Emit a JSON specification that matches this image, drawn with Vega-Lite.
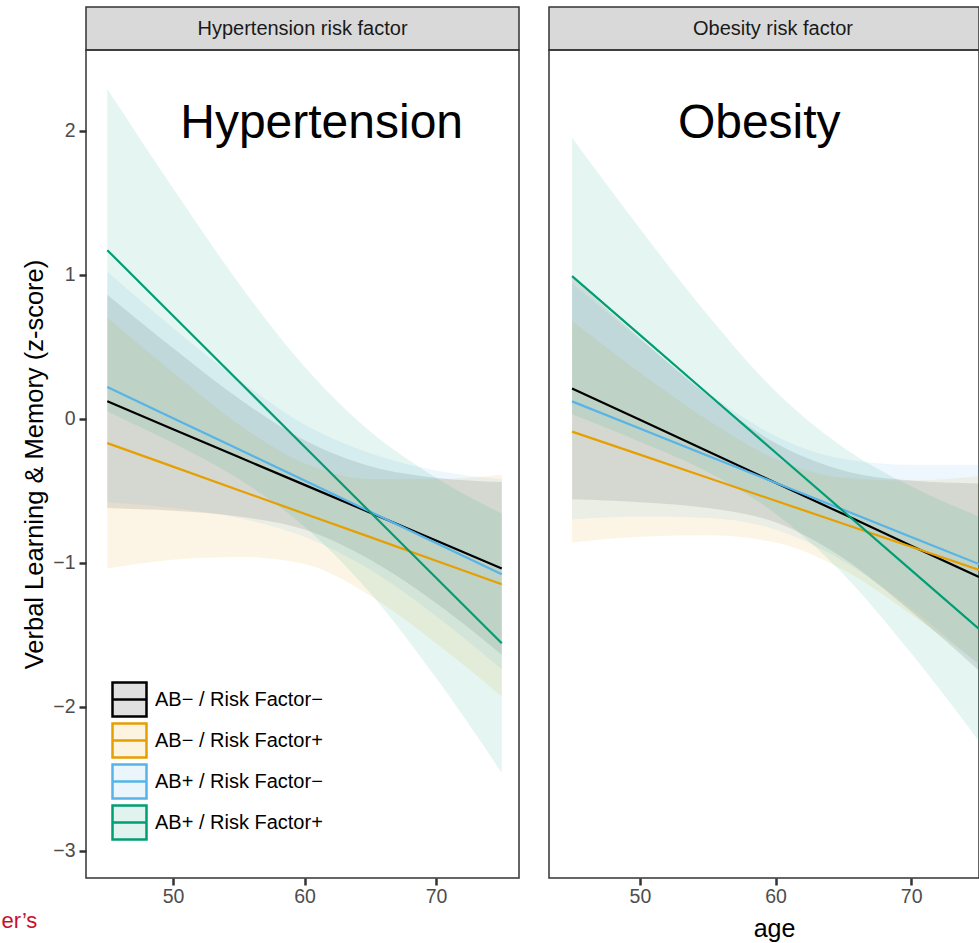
{
  "$schema": "https://vega.github.io/schema/vega-lite/v6.json",
  "padding": {"left": 0, "top": 6, "right": 0, "bottom": 0},
  "autosize": {"type": "pad"},
  "background": "white",
  "config": {
    "font": "Liberation Sans",
    "view": {"stroke": "#333333", "strokeWidth": 1.5},
    "axis": {"grid": false, "domain": false, "tickColor": "#333333", "tickWidth": 2.5, "tickSize": 7, "labelFont": "Liberation Sans", "labelFontSize": 19.5, "labelColor": "#4d4d4d", "titleFont": "Liberation Sans", "titleFontWeight": "normal", "titleColor": "#000000"}
  },
  "datasets": {
    "fits": [
      {"panel": "Hypertension", "group": "AB− / Risk Factor−", "age": 45, "fit": 0.12, "lo": -0.62, "hi": 0.86},
      {"panel": "Hypertension", "group": "AB− / Risk Factor−", "age": 50, "fit": -0.073, "lo": -0.64, "hi": 0.49},
      {"panel": "Hypertension", "group": "AB− / Risk Factor−", "age": 55, "fit": -0.267, "lo": -0.68, "hi": 0.14},
      {"panel": "Hypertension", "group": "AB− / Risk Factor−", "age": 60, "fit": -0.46, "lo": -0.77, "hi": -0.15},
      {"panel": "Hypertension", "group": "AB− / Risk Factor−", "age": 65, "fit": -0.653, "lo": -0.98, "hi": -0.33},
      {"panel": "Hypertension", "group": "AB− / Risk Factor−", "age": 70, "fit": -0.847, "lo": -1.28, "hi": -0.41},
      {"panel": "Hypertension", "group": "AB− / Risk Factor−", "age": 75, "fit": -1.04, "lo": -1.64, "hi": -0.44},
      {"panel": "Hypertension", "group": "AB− / Risk Factor+", "age": 45, "fit": -0.17, "lo": -1.04, "hi": 0.70},
      {"panel": "Hypertension", "group": "AB− / Risk Factor+", "age": 50, "fit": -0.333, "lo": -0.98, "hi": 0.32},
      {"panel": "Hypertension", "group": "AB− / Risk Factor+", "age": 55, "fit": -0.497, "lo": -0.96, "hi": -0.04},
      {"panel": "Hypertension", "group": "AB− / Risk Factor+", "age": 60, "fit": -0.66, "lo": -1.01, "hi": -0.31},
      {"panel": "Hypertension", "group": "AB− / Risk Factor+", "age": 65, "fit": -0.823, "lo": -1.23, "hi": -0.42},
      {"panel": "Hypertension", "group": "AB− / Risk Factor+", "age": 70, "fit": -0.987, "lo": -1.56, "hi": -0.42},
      {"panel": "Hypertension", "group": "AB− / Risk Factor+", "age": 75, "fit": -1.15, "lo": -1.93, "hi": -0.39},
      {"panel": "Hypertension", "group": "AB+ / Risk Factor−", "age": 45, "fit": 0.22, "lo": -0.58, "hi": 1.02},
      {"panel": "Hypertension", "group": "AB+ / Risk Factor−", "age": 50, "fit": 0.003, "lo": -0.62, "hi": 0.63},
      {"panel": "Hypertension", "group": "AB+ / Risk Factor−", "age": 55, "fit": -0.213, "lo": -0.69, "hi": 0.27},
      {"panel": "Hypertension", "group": "AB+ / Risk Factor−", "age": 60, "fit": -0.43, "lo": -0.82, "hi": -0.04},
      {"panel": "Hypertension", "group": "AB+ / Risk Factor−", "age": 65, "fit": -0.647, "lo": -1.05, "hi": -0.24},
      {"panel": "Hypertension", "group": "AB+ / Risk Factor−", "age": 70, "fit": -0.863, "lo": -1.37, "hi": -0.36},
      {"panel": "Hypertension", "group": "AB+ / Risk Factor−", "age": 75, "fit": -1.08, "lo": -1.74, "hi": -0.42},
      {"panel": "Hypertension", "group": "AB+ / Risk Factor+", "age": 45, "fit": 1.17, "lo": 0.05, "hi": 2.29},
      {"panel": "Hypertension", "group": "AB+ / Risk Factor+", "age": 50, "fit": 0.715, "lo": -0.17, "hi": 1.60},
      {"panel": "Hypertension", "group": "AB+ / Risk Factor+", "age": 55, "fit": 0.26, "lo": -0.42, "hi": 0.94},
      {"panel": "Hypertension", "group": "AB+ / Risk Factor+", "age": 60, "fit": -0.195, "lo": -0.75, "hi": 0.36},
      {"panel": "Hypertension", "group": "AB+ / Risk Factor+", "age": 65, "fit": -0.65, "lo": -1.21, "hi": -0.09},
      {"panel": "Hypertension", "group": "AB+ / Risk Factor+", "age": 70, "fit": -1.105, "lo": -1.80, "hi": -0.41},
      {"panel": "Hypertension", "group": "AB+ / Risk Factor+", "age": 75, "fit": -1.56, "lo": -2.46, "hi": -0.66},
      {"panel": "Obesity", "group": "AB− / Risk Factor−", "age": 45, "fit": 0.21, "lo": -0.56, "hi": 0.98},
      {"panel": "Obesity", "group": "AB− / Risk Factor−", "age": 50, "fit": -0.008, "lo": -0.58, "hi": 0.56},
      {"panel": "Obesity", "group": "AB− / Risk Factor−", "age": 55, "fit": -0.227, "lo": -0.62, "hi": 0.16},
      {"panel": "Obesity", "group": "AB− / Risk Factor−", "age": 60, "fit": -0.445, "lo": -0.72, "hi": -0.17},
      {"panel": "Obesity", "group": "AB− / Risk Factor−", "age": 65, "fit": -0.663, "lo": -0.97, "hi": -0.36},
      {"panel": "Obesity", "group": "AB− / Risk Factor−", "age": 70, "fit": -0.882, "lo": -1.34, "hi": -0.43},
      {"panel": "Obesity", "group": "AB− / Risk Factor−", "age": 75, "fit": -1.10, "lo": -1.75, "hi": -0.45},
      {"panel": "Obesity", "group": "AB− / Risk Factor+", "age": 45, "fit": -0.09, "lo": -0.86, "hi": 0.68},
      {"panel": "Obesity", "group": "AB− / Risk Factor+", "age": 50, "fit": -0.25, "lo": -0.82, "hi": 0.32},
      {"panel": "Obesity", "group": "AB− / Risk Factor+", "age": 55, "fit": -0.41, "lo": -0.81, "hi": -0.01},
      {"panel": "Obesity", "group": "AB− / Risk Factor+", "age": 60, "fit": -0.57, "lo": -0.86, "hi": -0.28},
      {"panel": "Obesity", "group": "AB− / Risk Factor+", "age": 65, "fit": -0.73, "lo": -1.05, "hi": -0.41},
      {"panel": "Obesity", "group": "AB− / Risk Factor+", "age": 70, "fit": -0.89, "lo": -1.36, "hi": -0.43},
      {"panel": "Obesity", "group": "AB− / Risk Factor+", "age": 75, "fit": -1.05, "lo": -1.70, "hi": -0.40},
      {"panel": "Obesity", "group": "AB+ / Risk Factor−", "age": 45, "fit": 0.12, "lo": -0.70, "hi": 0.94},
      {"panel": "Obesity", "group": "AB+ / Risk Factor−", "age": 50, "fit": -0.068, "lo": -0.68, "hi": 0.55},
      {"panel": "Obesity", "group": "AB+ / Risk Factor−", "age": 55, "fit": -0.257, "lo": -0.69, "hi": 0.18},
      {"panel": "Obesity", "group": "AB+ / Risk Factor−", "age": 60, "fit": -0.445, "lo": -0.77, "hi": -0.12},
      {"panel": "Obesity", "group": "AB+ / Risk Factor−", "age": 65, "fit": -0.633, "lo": -0.99, "hi": -0.28},
      {"panel": "Obesity", "group": "AB+ / Risk Factor−", "age": 70, "fit": -0.822, "lo": -1.32, "hi": -0.32},
      {"panel": "Obesity", "group": "AB+ / Risk Factor−", "age": 75, "fit": -1.01, "lo": -1.71, "hi": -0.32},
      {"panel": "Obesity", "group": "AB+ / Risk Factor+", "age": 45, "fit": 0.99, "lo": 0.03, "hi": 1.95},
      {"panel": "Obesity", "group": "AB+ / Risk Factor+", "age": 50, "fit": 0.582, "lo": -0.16, "hi": 1.32},
      {"panel": "Obesity", "group": "AB+ / Risk Factor+", "age": 55, "fit": 0.173, "lo": -0.37, "hi": 0.72},
      {"panel": "Obesity", "group": "AB+ / Risk Factor+", "age": 60, "fit": -0.235, "lo": -0.66, "hi": 0.19},
      {"panel": "Obesity", "group": "AB+ / Risk Factor+", "age": 65, "fit": -0.643, "lo": -1.08, "hi": -0.20},
      {"panel": "Obesity", "group": "AB+ / Risk Factor+", "age": 70, "fit": -1.052, "lo": -1.63, "hi": -0.47},
      {"panel": "Obesity", "group": "AB+ / Risk Factor+", "age": 75, "fit": -1.46, "lo": -2.24, "hi": -0.68}
    ]
  },
  "spacing": 28,
  "hconcat": [
    {
      "spacing": 0,
      "bounds": "flush",
      "resolve": {"legend": {"color": "independent"}},
      "vconcat": [
        {
          "width": 433,
          "height": 43,
          "data": {"values": [{"label": "Hypertension risk factor"}]},
          "mark": {"type": "text", "fontSize": 20, "color": "#1a1a1a", "align": "center", "baseline": "middle"},
          "encoding": {"text": {"field": "label", "type": "nominal"}},
          "view": {"fill": "#d9d9d9", "stroke": "#333333", "strokeWidth": 1.5}
        },
        {
          "width": 433,
          "height": 828,
          "layer": [
            {
              "data": {"name": "fits"},
              "transform": [{"filter": "datum.panel === 'Hypertension'"}],
              "mark": {"type": "area", "interpolate": "monotone", "fillOpacity": 0.1},
              "encoding": {
                "x": {
                  "field": "age", "type": "quantitative",
                  "scale": {"domain": [43.38, 76.31], "nice": false, "zero": false},
                  "axis": {"values": [50, 60, 70], "format": "d", "labelPadding": 2, "title": "er’s", "titleColor": "#c8102e", "titleFontSize": 22, "titleX": -85, "titleY": 49, "titleAlign": "left", "titleBaseline": "alphabetic"}
                },
                "y": {
                  "field": "lo", "type": "quantitative",
                  "scale": {"domain": [-3.19, 2.56], "nice": false, "zero": false},
                  "axis": {"values": [-3, -2, -1, 0, 1, 2], "format": "d", "labelPadding": 4, "title": "Verbal Learning & Memory (z-score)", "titleFontSize": 25.5, "titlePadding": 5}
                },
                "y2": {"field": "hi"},
                "color": {
                  "field": "group", "type": "nominal",
                  "scale": {"domain": ["AB− / Risk Factor−", "AB− / Risk Factor+", "AB+ / Risk Factor−", "AB+ / Risk Factor+"], "range": ["#000000", "#E69F00", "#56B4E9", "#009E73"]},
                  "legend": {
                    "title": null, "orient": "none", "legendX": 25, "legendY": 631, "direction": "vertical", "padding": 0,
                    "symbolType": "M-1,-1H1V1H-1Z M-1,0H1", "symbolSize": 1156, "symbolStrokeWidth": 2.5,
                    "labelFontSize": 20, "labelFont": "Liberation Sans", "labelColor": "#000000", "labelOffset": 7, "labelLimit": 400, "rowPadding": -10,
                    "encode": {"symbols": {"update": {"fill": {"scale": "color", "field": "value"}, "fillOpacity": {"value": 0.12}, "stroke": {"scale": "color", "field": "value"}, "strokeWidth": {"value": 2.5}, "opacity": {"value": 1}}}}
                  }
                }
              }
            },
            {
              "data": {"name": "fits"},
              "transform": [{"filter": "datum.panel === 'Hypertension'"}],
              "mark": {"type": "line", "strokeWidth": 2.2},
              "encoding": {
                "x": {"field": "age", "type": "quantitative"},
                "y": {"field": "fit", "type": "quantitative"},
                "color": {"field": "group", "type": "nominal"}
              }
            },
            {
              "data": {"values": [{"label": "Hypertension"}]},
              "mark": {"type": "text", "fontSize": 48, "color": "#000000", "align": "center", "baseline": "alphabetic"},
              "encoding": {
                "x": {"datum": 61.3, "type": "quantitative"},
                "y": {"datum": 1.95, "type": "quantitative"},
                "text": {"field": "label", "type": "nominal"}
              }
            }
          ]
        }
      ]
    },
    {
      "spacing": 0,
      "bounds": "flush",
      "vconcat": [
        {
          "width": 430,
          "height": 43,
          "data": {"values": [{"label": "Obesity risk factor"}]},
          "mark": {"type": "text", "fontSize": 20, "color": "#1a1a1a", "align": "center", "baseline": "middle", "dx": 9},
          "encoding": {"text": {"field": "label", "type": "nominal"}},
          "view": {"fill": "#d9d9d9", "stroke": "#333333", "strokeWidth": 1.5}
        },
        {
          "width": 430,
          "height": 828,
          "layer": [
            {
              "data": {"name": "fits"},
              "transform": [{"filter": "datum.panel === 'Obesity'"}],
              "mark": {"type": "area", "interpolate": "monotone", "fillOpacity": 0.1},
              "encoding": {
                "x": {
                  "field": "age", "type": "quantitative",
                  "scale": {"domain": [43.3, 75.0], "nice": false, "zero": false},
                  "axis": {"values": [50, 60, 70], "format": "d", "labelPadding": 2, "title": "age", "titleFontSize": 25, "titleX": 225, "titleY": 58, "titleBaseline": "alphabetic"}
                },
                "y": {
                  "field": "lo", "type": "quantitative",
                  "scale": {"domain": [-3.19, 2.56], "nice": false, "zero": false},
                  "axis": null
                },
                "y2": {"field": "hi"},
                "color": {"field": "group", "type": "nominal", "legend": null}
              }
            },
            {
              "data": {"name": "fits"},
              "transform": [{"filter": "datum.panel === 'Obesity'"}],
              "mark": {"type": "line", "strokeWidth": 2.2},
              "encoding": {
                "x": {"field": "age", "type": "quantitative"},
                "y": {"field": "fit", "type": "quantitative"},
                "color": {"field": "group", "type": "nominal", "legend": null}
              }
            },
            {
              "data": {"values": [{"label": "Obesity"}]},
              "mark": {"type": "text", "fontSize": 48, "color": "#000000", "align": "center", "baseline": "alphabetic"},
              "encoding": {
                "x": {"datum": 58.8, "type": "quantitative"},
                "y": {"datum": 1.95, "type": "quantitative"},
                "text": {"field": "label", "type": "nominal"}
              }
            }
          ]
        }
      ]
    }
  ]
}
